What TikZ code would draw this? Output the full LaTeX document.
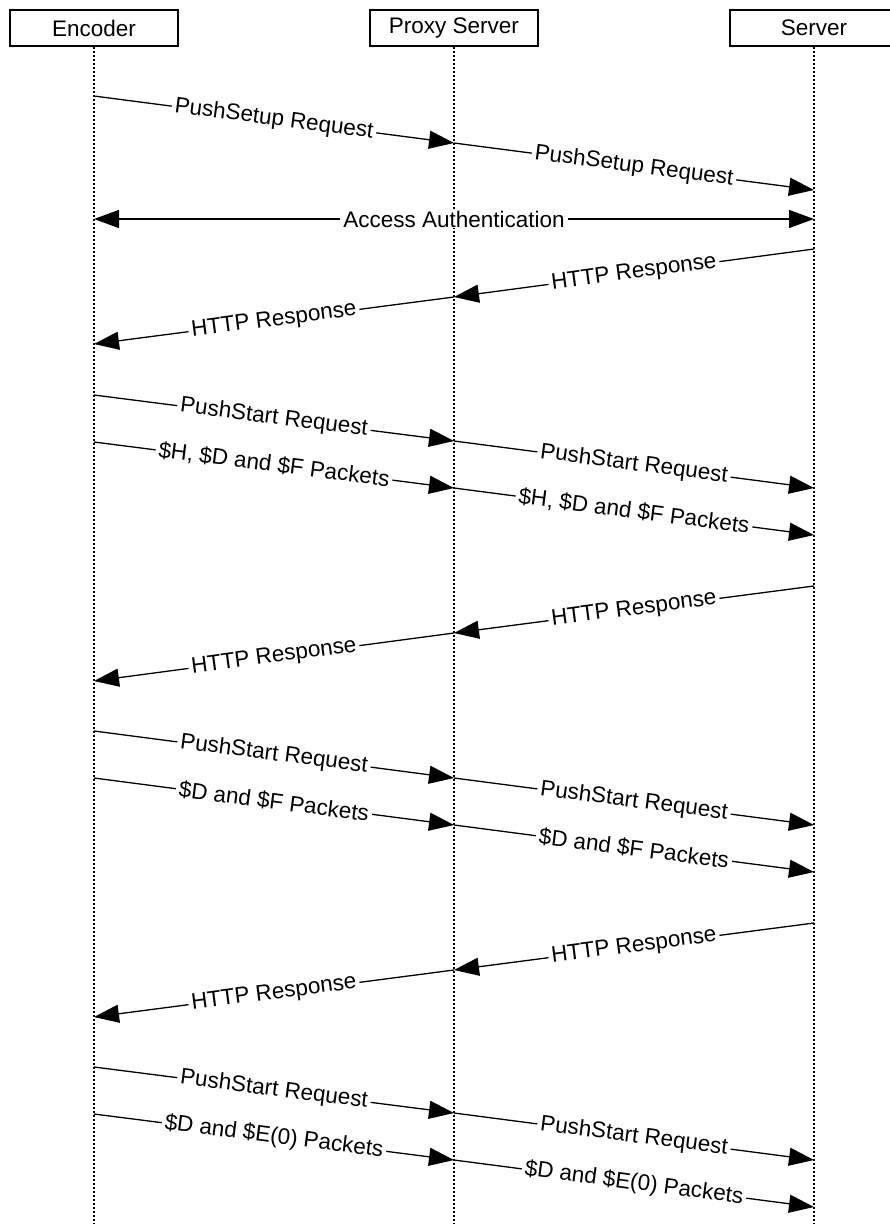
\documentclass[tikz,border=0pt]{standalone}
\usepackage{fontspec}
\setmainfont{Liberation Sans}
\usetikzlibrary{arrows.meta}
\begin{document}
\begin{tikzpicture}[x=1pt,y=-1pt,
  every node/.style={font=\fontsize{22.5}{26}\selectfont},
  actor/.style={draw, line width=1.2pt, minimum width=168pt, minimum height=36pt, inner sep=0pt, fill=white},
  life/.style={line width=1.2pt, dash pattern=on 2pt off 2pt},
  msg/.style={line width=1.3pt, -{Triangle[length=25pt,width=18pt]}},
  both/.style={line width=1.3pt, {Triangle[length=25pt,width=18pt]}-{Triangle[length=25pt,width=18pt]}},
  lbl/.style={sloped, fill=white, inner xsep=3pt, inner ysep=1pt, midway}]
\useasboundingbox (0,0) rectangle (890,1224);
\fill[white] (0,0) rectangle (890,1224);

% actors
\node[actor] (enc) at (94,28) {Encoder};
\node[actor] (prx) at (454,28) {Proxy Server};
\node[actor] (srv) at (814,28) {Server};

% lifeline ends
\coordinate (encEnd) at (94,1230);
\coordinate (prxEnd) at (454,1230);
\coordinate (srvEnd) at (814,1230);
\draw[life] (enc.south) -- (encEnd);
\draw[life] (prx.south) -- (prxEnd);
\draw[life] (srv.south) -- (srvEnd);

% message points
\coordinate (a1) at (94,96);   \coordinate (a2) at (454,143); \coordinate (a3) at (814,190);
\coordinate (b1) at (94,219);  \coordinate (b3) at (814,219);
\coordinate (c3) at (814,249); \coordinate (c2) at (454,297); \coordinate (c1) at (94,344);
\coordinate (d1) at (94,395);  \coordinate (d2) at (454,441); \coordinate (d3) at (814,488);
\coordinate (e1) at (94,442);  \coordinate (e2) at (454,488); \coordinate (e3) at (814,535);
\coordinate (f3) at (814,586); \coordinate (f2) at (454,633); \coordinate (f1) at (94,681);
\coordinate (g1) at (94,731);  \coordinate (g2) at (454,778); \coordinate (g3) at (814,825);
\coordinate (h1) at (94,778);  \coordinate (h2) at (454,825); \coordinate (h3) at (814,872);
\coordinate (i3) at (814,923); \coordinate (i2) at (454,970); \coordinate (i1) at (94,1017);
\coordinate (j1) at (94,1067); \coordinate (j2) at (454,1113); \coordinate (j3) at (814,1160);
\coordinate (k1) at (94,1114); \coordinate (k2) at (454,1160); \coordinate (k3) at (814,1207);

% messages
\draw[msg] (a1) -- node[lbl] {PushSetup Request} (a2);
\draw[msg] (a2) -- node[lbl] {PushSetup Request} (a3);
\draw[both] (b1) -- node[lbl] {Access Authentication} (b3);
\draw[msg] (c3) -- node[lbl] {HTTP Response} (c2);
\draw[msg] (c2) -- node[lbl] {HTTP Response} (c1);
\draw[msg] (d1) -- node[lbl] {PushStart Request} (d2);
\draw[msg] (d2) -- node[lbl] {PushStart Request} (d3);
\draw[msg] (e1) -- node[lbl] {\$H, \$D and \$F Packets} (e2);
\draw[msg] (e2) -- node[lbl] {\$H, \$D and \$F Packets} (e3);
\draw[msg] (f3) -- node[lbl] {HTTP Response} (f2);
\draw[msg] (f2) -- node[lbl] {HTTP Response} (f1);
\draw[msg] (g1) -- node[lbl] {PushStart Request} (g2);
\draw[msg] (g2) -- node[lbl] {PushStart Request} (g3);
\draw[msg] (h1) -- node[lbl] {\$D and \$F Packets} (h2);
\draw[msg] (h2) -- node[lbl] {\$D and \$F Packets} (h3);
\draw[msg] (i3) -- node[lbl] {HTTP Response} (i2);
\draw[msg] (i2) -- node[lbl] {HTTP Response} (i1);
\draw[msg] (j1) -- node[lbl] {PushStart Request} (j2);
\draw[msg] (j2) -- node[lbl] {PushStart Request} (j3);
\draw[msg] (k1) -- node[lbl] {\$D and \$E(0) Packets} (k2);
\draw[msg] (k2) -- node[lbl] {\$D and \$E(0) Packets} (k3);
\end{tikzpicture}
\end{document}
